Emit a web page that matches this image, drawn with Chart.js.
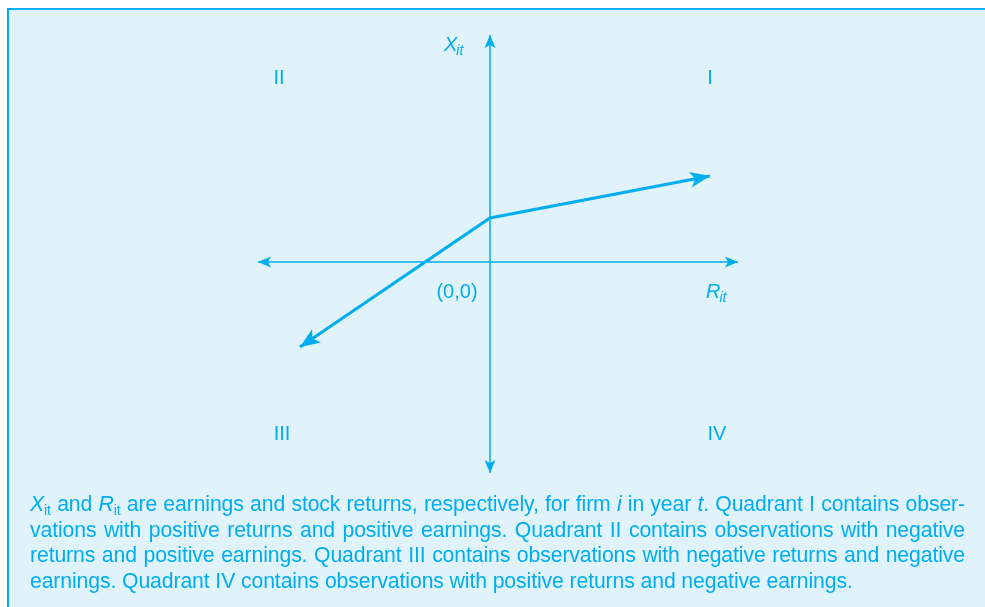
<!DOCTYPE html>
<html>
<head>
<meta charset="utf-8">
<script src="https://cdn.jsdelivr.net/npm/chart.js@4.4.0/dist/chart.umd.min.js"></script>
<style>
  html, body { margin: 0; padding: 0; background: #fff; }
  #page { position: relative; width: 985px; height: 607px; overflow: hidden; }
  #panel {
    position: absolute; left: 7px; top: 8px; width: 990px; height: 620px;
    background: #e0f3fb; border-top: 2px solid #00aeef; border-left: 2px solid #00aeef;
  }
  #chart { position: absolute; left: 0; top: 0; }
  #caption {
    position: absolute; left: 30px; top: 491px; width: 935px;
    font-family: "Liberation Sans", Arial, sans-serif; font-size: 21.2px;
    letter-spacing: -0.1px; line-height: 25.7px; color: #00aeef;
  }
  #caption .ln { text-align: justify; text-align-last: justify; white-space: nowrap; }
  #caption .ln.last { text-align-last: left; }
  #caption sub { font-size: 14px; vertical-align: -4px; line-height: 0; }
</style>
</head>
<body>
<div id="page">
  <div id="panel"></div>
  <canvas id="chart" width="985" height="607"></canvas>
  <div id="caption">
    <div class="ln"><i>X</i><sub>it</sub> and <i>R</i><sub>it</sub> are earnings and stock returns, respectively, for firm <i>i</i> in year <i>t</i>. Quadrant I contains obser-</div>
    <div class="ln">vations with positive returns and positive earnings. Quadrant II contains observations with negative</div>
    <div class="ln">returns and positive earnings. Quadrant III contains observations with negative returns and negative</div>
    <div class="ln last">earnings. Quadrant IV contains observations with positive returns and negative earnings.</div>
  </div>
</div>
<script>
// returns (R) on x, earnings (X) on y; origin = (0,0)
const returnsAxis = [-23.2, 24.8];
const earningsAxis = [22.7, -21.1];
const relReturns = [-19, 0, 22];
const relEarnings = [-8.5, 4.4, 8.6];
const quadrantLabels = ['I', 'II', 'III', 'IV'];

const blue = '#00aeef';
const font = '"Liberation Sans", Arial, sans-serif';

document.addEventListener('DOMContentLoaded', function () {
    const ctx = document.getElementById('chart').getContext('2d');

    // arrowheads on both ends of each dataset
    const arrowPlugin = {
        id: 'arrows',
        afterDatasetsDraw(chart) {
            const c = chart.ctx;
            chart.data.datasets.forEach((ds, i) => {
                const pts = chart.getDatasetMeta(i).data;
                if (pts.length < 2) return;
                const len = ds.arrowLen, hw = ds.arrowHalf, notch = ds.arrowNotch;
                [[pts[0], pts[1]], [pts[pts.length - 1], pts[pts.length - 2]]].forEach(([tip, prev]) => {
                    const a = Math.atan2(tip.y - prev.y, tip.x - prev.x);
                    c.save();
                    c.translate(tip.x, tip.y);
                    c.rotate(a);
                    c.beginPath();
                    c.moveTo(0, 0);
                    c.lineTo(-len, -hw);
                    c.lineTo(-len + notch, 0);
                    c.lineTo(-len, hw);
                    c.closePath();
                    c.fillStyle = blue;
                    c.fill();
                    c.restore();
                });
            });
        },
    };

    const labelPlugin = {
        id: 'labels',
        afterDraw(chart) {
            const c = chart.ctx;
            const xs = chart.scales.x, ys = chart.scales.y;
            const quadPos = [[22, 18.4], [-21.1, 18.4], [-20.8, -17.2], [22.7, -17.2]];
            c.save();
            c.fillStyle = blue;
            c.textAlign = 'center';
            c.textBaseline = 'middle';
            c.font = '20px ' + font;
            quadrantLabels.forEach((t, i) => {
                c.fillText(t, xs.getPixelForValue(quadPos[i][0]), ys.getPixelForValue(quadPos[i][1]));
            });
            c.fillText('(0,0)', xs.getPixelForValue(-3.3), ys.getPixelForValue(-3.0));

            function axisLabel(main, x, y) {
                const px = xs.getPixelForValue(x), py = ys.getPixelForValue(y);
                c.textAlign = 'left';
                c.textBaseline = 'alphabetic';
                c.font = 'italic 20px ' + font;
                c.fillText(main, px, py);
                const w = c.measureText(main).width;
                c.font = 'italic 14px ' + font;
                c.fillText('it', px + w - 1, py + 4);
            }
            axisLabel('X', -4.6, 21.1);
            axisLabel('R', 21.6, -3.6);
            c.restore();
        },
    };

    new Chart(ctx, {
        type: 'scatter',
        data: {
            datasets: [
                {
                    data: returnsAxis.map((v) => ({ x: v, y: 0 })),
                    borderWidth: 1.5,
                    arrowLen: 13, arrowHalf: 5.5, arrowNotch: 3,
                },
                {
                    data: earningsAxis.map((v) => ({ x: 0, y: v })),
                    borderWidth: 1.5,
                    arrowLen: 13, arrowHalf: 5.5, arrowNotch: 3,
                },
                {
                    data: relReturns.map((v, i) => ({ x: v, y: relEarnings[i] })),
                    borderWidth: 3,
                    arrowLen: 20, arrowHalf: 8, arrowNotch: 5,
                },
            ].map((d) => Object.assign({
                showLine: true,
                borderColor: blue,
                pointRadius: 0,
                pointHoverRadius: 0,
                tension: 0,
                clip: false,
            }, d)),
        },
        options: {
            responsive: false,
            animation: false,
            events: [],
            layout: { padding: 0 },
            scales: {
                x: { type: 'linear', display: false, min: -49, max: 49.5 },
                y: { type: 'linear', display: false, min: -34.5, max: 26.2 },
            },
            plugins: {
                legend: { display: false },
                tooltip: { enabled: false },
            },
        },
        plugins: [arrowPlugin, labelPlugin],
    });
});
</script>
</body>
</html>
